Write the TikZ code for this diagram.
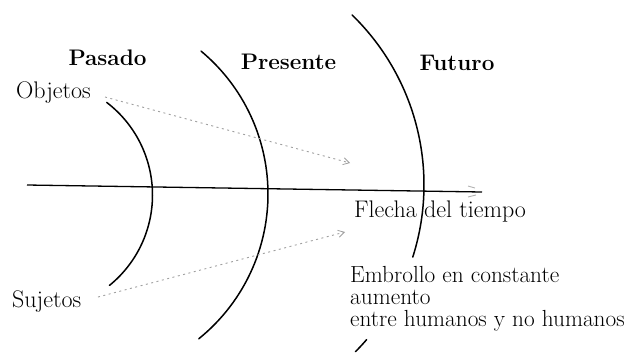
\documentclass[tikz,border=0pt]{standalone}
\usetikzlibrary{arrows.meta}
\begin{document}
\begin{tikzpicture}[x=1pt,y=-1pt,
  lbl/.style={font=\fontsize{24}{24}\selectfont, inner sep=0pt, anchor=base west},
  emb/.style={font=\fontsize{23.3}{24}\selectfont, inner sep=0pt, anchor=base west},
  head/.style={font=\fontsize{22.5}{23}\selectfont\bfseries, inner sep=0pt, anchor=base},
  arcline/.style={line width=1.5pt, black, line cap=round},
  axisline/.style={line width=1.3pt, black},
  dotline/.style={gray!75, line width=0.9pt, dash pattern=on 2pt off 3.5pt,
    -{Straight Barb[length=6pt,width=7pt,line width=0.8pt]}},
  barb/.style={gray!60, line width=0.9pt}
]
\useasboundingbox (0,0) rectangle (629,357);
% headings
\node[head] (pas) at (107.5,65) {Pasado};
\node[head] (pre) at (288.5,69) {Presente};
\node[head] (fut) at (457,70) {Futuro};
% labels
\node[lbl] (obj) at (16,98) {Objetos};
\node[lbl] (suj) at (12,307) {Sujetos};
\node[lbl] (fle) at (354,217) {Flecha del tiempo};
\node[emb] (emb1) at (350,282) {Embrollo en constante};
\node[emb] (emb2) at (350,304) {aumento};
\node[emb] (emb3) at (350,326) {entre humanos y no humanos};
% arcs (circular)
\draw[arcline] plot[domain=-52.6:50.9, samples=60] ({36+116.5*cos(\x)}, {195+116.5*sin(\x)});
\draw[arcline] plot[domain=-50.2:51.1, samples=60] ({82+186*cos(\x)}, {194+186*sin(\x)});
\draw[arcline] plot[domain=-45.85:17.7, samples=60] ({187+237*cos(\x)}, {185+237*sin(\x)});
\draw[arcline] plot[domain=40.7:44.7, samples=10] ({187+237*cos(\x)}, {185+237*sin(\x)});
% time axis
\coordinate (ax0) at (27,185);
\coordinate (ax1) at (482,192);
\draw[axisline] (ax0) -- (ax1);
\coordinate (bt) at (468,186);
\coordinate (bb) at (468,197);
\draw[barb] (bt) -- (475,188);
\draw[barb] (bb) -- (476,195);
% dotted arrows
\coordinate (objS) at (105,97);
\coordinate (objT) at (350,163);
\coordinate (sujS) at (98,297);
\coordinate (sujT) at (345,232);
\draw[dotline] (objS) -- (objT);
\draw[dotline] (sujS) -- (sujT);
\end{tikzpicture}
\end{document}
